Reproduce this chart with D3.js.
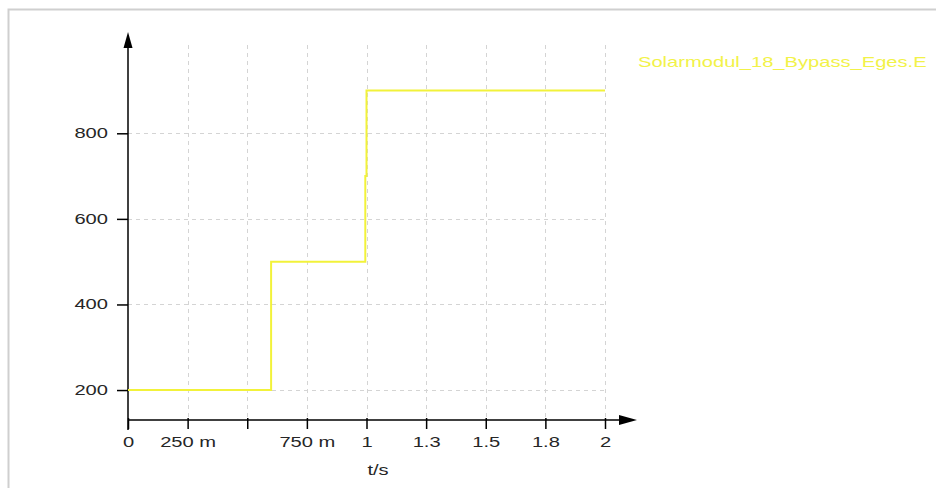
<!DOCTYPE html>
<html>
<head>
<meta charset="utf-8">
<script src="https://cdn.jsdelivr.net/npm/d3@7"></script>
<style>
  html, body { margin: 0; padding: 0; background: #fff; }
  svg { display: block; font-family: "Liberation Sans", Arial, sans-serif; }
</style>
</head>
<body>
<svg id="chart" width="936" height="488"></svg>
<script>
// Step signal: time (s) and energy value
const times = [0, 0.6, 0.995, 1.0, 2.0];
const values = [200, 500, 700, 900, 900];
const seriesName = "Solarmodul_18_Bypass_Eges.E";

const xTicks = [0, 0.25, 0.5, 0.75, 1, 1.25, 1.5, 1.75, 2];
const xTickLabels = ["0", "250 m", "", "750 m", "1", "1.3", "1.5", "1.8", "2"];
const yTicks = [200, 400, 600, 800];
const xTitle = "t/s";

const svg = d3.select("#chart");
const fontSize = "14px";
const textColor = "#262626";

// outer frame
svg.append("rect")
  .attr("x", 8.5).attr("y", 9.5)
  .attr("width", 940).attr("height", 490)
  .attr("fill", "none").attr("stroke", "#cfcfcf").attr("stroke-width", 2);

const x = d3.scaleLinear().domain([0, 2]).range([128, 605]);
const y = d3.scaleLinear().domain([130, 800]).range([420, 133.3]);

// legend first: its width sets the horizontal text stretch used everywhere
const legend = svg.append("text").attr("x", 0).attr("y", 0)
  .attr("fill", "#f2f248").style("font-size", fontSize).text(seriesName);
const natural = legend.node().getComputedTextLength();
const k = 289 / natural;
legend.attr("transform", `translate(638,67) scale(${k},1)`);

const gridTop = 45;
const gridColor = "#d4d4d4";

// vertical grid
svg.append("g").selectAll("line").data(xTicks.slice(1)).join("line")
  .attr("x1", d => Math.round(x(d)) + 0.5).attr("x2", d => Math.round(x(d)) + 0.5)
  .attr("y1", gridTop).attr("y2", y(130))
  .attr("stroke", gridColor).attr("stroke-dasharray", "4,4");

// horizontal grid
svg.append("g").selectAll("line").data(yTicks).join("line")
  .attr("x1", x(0)).attr("x2", x(2))
  .attr("y1", d => Math.round(y(d)) + 0.5).attr("y2", d => Math.round(y(d)) + 0.5)
  .attr("stroke", gridColor).attr("stroke-dasharray", "4,4");

// x axis
const xAxis = d3.axisBottom(x)
  .tickValues(xTicks)
  .tickFormat((d, i) => xTickLabels[i])
  .tickSize(9).tickPadding(8).tickSizeOuter(0);
const gx = svg.append("g").attr("transform", `translate(0,${y(130)})`).call(xAxis);
gx.select(".domain").remove();
gx.selectAll(".tick line").attr("stroke", "#000").attr("stroke-width", 1.5).attr("y1", -2);
gx.selectAll(".tick text").attr("fill", textColor).style("font-size", fontSize)
  .style("font-family", "Liberation Sans, Arial, sans-serif")
  .attr("y", 27).attr("dy", 0)
  .attr("transform", `scale(${k},1)`);

// y axis
const yAxis = d3.axisLeft(y).tickValues(yTicks).tickSize(11).tickPadding(9).tickSizeOuter(0);
const gy = svg.append("g").attr("transform", `translate(${x(0)},0)`).call(yAxis);
gy.select(".domain").remove();
gy.selectAll(".tick line").attr("stroke", "#000").attr("stroke-width", 1.5);
gy.selectAll(".tick text").attr("fill", textColor).style("font-size", fontSize)
  .style("font-family", "Liberation Sans, Arial, sans-serif")
  .attr("x", -20 / k)
  .attr("transform", `scale(${k},1)`);

// axis lines with arrow heads
svg.append("line").attr("x1", x(0)).attr("x2", x(0)).attr("y1", 44).attr("y2", y(130) + 10)
  .attr("stroke", "#000").attr("stroke-width", 1.5);
svg.append("line").attr("x1", x(0)).attr("x2", 622).attr("y1", y(130)).attr("y2", y(130))
  .attr("stroke", "#000").attr("stroke-width", 1.5);
svg.append("path")
  .attr("d", `M${x(0)},32 L${x(0) - 4.5},48 L${x(0) + 4.5},48 Z`).attr("fill", "#000");
svg.append("path")
  .attr("d", `M637,${y(130)} L619,${y(130) - 5} L619,${y(130) + 5} Z`).attr("fill", "#000");

// axis title
svg.append("text").attr("x", 0).attr("y", 0).attr("text-anchor", "middle")
  .attr("transform", `translate(378,475) scale(${k},1)`)
  .attr("fill", textColor).style("font-size", fontSize).text(xTitle);

// signal line
const pts = times.map((t, i) => [t, values[i]]);
const line = d3.line().x(d => x(d[0])).y(d => y(d[1])).curve(d3.curveStepAfter);
svg.append("path").datum(pts)
  .attr("d", line).attr("fill", "none")
  .attr("stroke", "#f2f23a").attr("stroke-width", 2);
</script>
</body>
</html>
